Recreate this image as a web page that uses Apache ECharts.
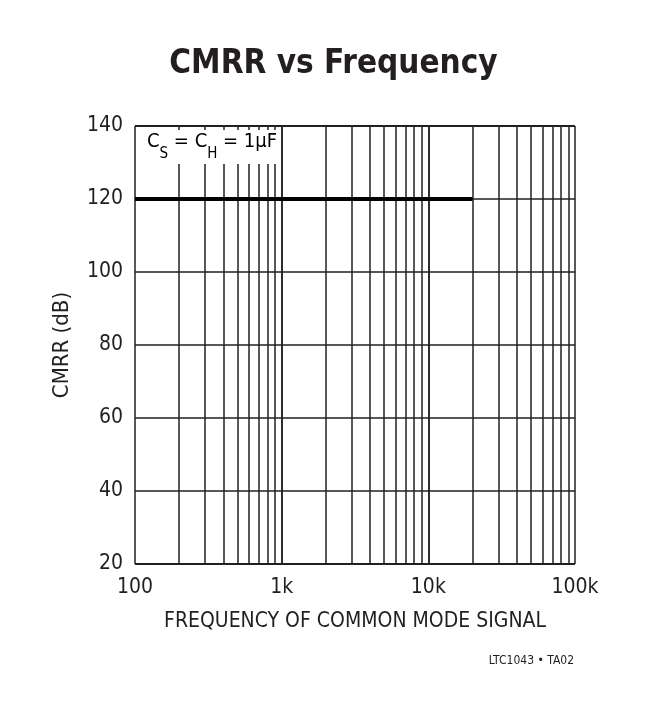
<!DOCTYPE html>
<html><head><meta charset="utf-8">
<script src="https://cdn.jsdelivr.net/npm/echarts@6/dist/echarts.min.js"></script>
<style>html,body{margin:0;padding:0;background:#fff}#c{width:667px;height:722px}</style>
</head><body><div id="c"></div>
<script>
var freq = [100, 20000];
var cmrr = [120, 120];
var yTicks = [20, 40, 60, 80, 100, 120, 140];
var xTickLabels = {100: '100', 1000: '1k', 10000: '10k', 100000: '100k'};
var gridFreqs = [];
[100, 1000, 10000].forEach(function (d) { for (var m = 1; m <= 10; m++) gridFreqs.push(d * m); });

var F = '"Liberation Sans Narrow","DejaVu Sans Condensed",sans-serif';
var chart = echarts.init(document.getElementById('c'));
chart.setOption({
  animation: false,
  backgroundColor: '#fff',
  title: {
    text: 'CMRR vs Frequency', left: 'center', top: 43,
    textStyle: { fontFamily: F, fontWeight: 'bold', fontSize: 33, color: '#231f20' }
  },
  grid: { left: 135, right: 92, top: 126, bottom: 158 },
  xAxis: {
    type: 'log', logBase: 10, min: 100, max: 100000,
    name: 'FREQUENCY OF COMMON MODE SIGNAL', nameLocation: 'middle', nameGap: 47,
    nameTextStyle: { fontFamily: F, fontSize: 21, color: '#231f20' },
    axisLine: { show: false }, axisTick: { show: false }, splitLine: { show: false },
    axisLabel: { fontFamily: F, fontSize: 21, color: '#231f20', margin: 13,
      formatter: function (v) { return xTickLabels[Math.round(v)] || ''; } }
  },
  yAxis: {
    type: 'value', min: 20, max: 140, interval: 20,
    name: 'CMRR (dB)', nameLocation: 'middle', nameGap: 62,
    nameTextStyle: { fontFamily: F, fontSize: 22, color: '#231f20' },
    axisLine: { show: false }, axisTick: { show: false },
    splitLine: { show: true, lineStyle: { color: '#231f20', width: 1.5 } },
    axisLabel: { fontFamily: F, fontSize: 21, color: '#231f20', margin: 12,
      formatter: function (v) { return yTicks.indexOf(v) >= 0 ? String(v) : ''; } }
  },
  graphic: [{
    type: 'text', left: 144, top: 130, z: 100,
    style: {
      text: '{m|C}{s|S}{m| = C}{s|H}{m| = 1μF}',
      backgroundColor: '#fff', padding: [2, 3, 2, 3],
      rich: {
        m: { fontFamily: F, fontSize: 20, color: '#231f20', lineHeight: 30, verticalAlign: 'top' },
        s: { fontFamily: F, fontSize: 15, color: '#231f20', lineHeight: 30, verticalAlign: 'bottom', padding: [10, 0, 0, 0] }
      }
    }
  }, {
    type: 'text', right: 93, top: 655,
    style: { text: 'LTC1043 • TA02', fontFamily: F, fontSize: 12, fill: '#231f20' }
  }],
  series: [{
    type: 'line', data: freq.map(function (f, i) { return [f, cmrr[i]]; }),
    symbol: 'none', lineStyle: { color: '#000', width: 4 }, z: 5,
    markLine: {
      silent: true, symbol: 'none', animation: false, z: 1,
      label: { show: false },
      lineStyle: { color: '#231f20', width: 1.5, type: 'solid' },
      data: gridFreqs.map(function (f) { return { xAxis: f }; })
    }
  }, {
    type: 'line', data: [[100, 140], [100000, 140]], symbol: 'none', silent: true,
    lineStyle: { color: '#231f20', width: 2 }, z: 4
  }, {
    type: 'line', data: [[100, 20], [100000, 20]], symbol: 'none', silent: true,
    lineStyle: { color: '#231f20', width: 2 }, z: 4
  }]
});
</script></body></html>
